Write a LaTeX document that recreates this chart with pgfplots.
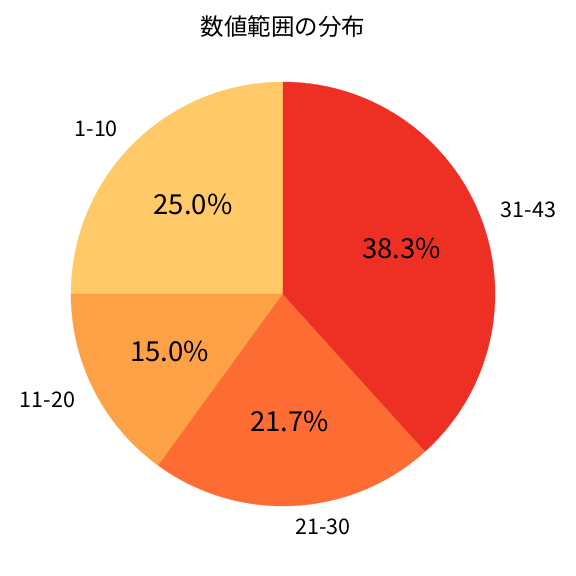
\documentclass[border=0pt]{standalone}
\usepackage{pgfplots}
\pgfplotsset{compat=1.18}
\usepackage{fontspec}
\setmainfont{Noto Sans CJK JP}

\definecolor{cA}{RGB}{254,201,102}
\definecolor{cB}{RGB}{253,161,71}
\definecolor{cC}{RGB}{252,108,51}
\definecolor{cD}{RGB}{238,48,36}

% shares (percent)
\def\pA{25.0}
\def\pB{15.0}
\def\pC{21.7}
\def\pD{38.3}

\begin{document}
\begin{tikzpicture}
\pgfmathsetmacro\aA{90}
\pgfmathsetmacro\aB{\aA+3.6*\pA}
\pgfmathsetmacro\aC{\aB+3.6*\pB}
\pgfmathsetmacro\aD{\aC+3.6*\pC}
\pgfmathsetmacro\aE{\aD+3.6*\pD}
\begin{axis}[
    scale only axis,
    width=576bp, height=576bp,
    xmin=-1.3349, xmax=1.3821,
    ymin=-1.3302, ymax=1.3868,
    hide axis,
    clip=false,
    samples=80,
    variable=\t,
]
\addplot[fill=cA, draw=cA, line width=0.3pt, domain=\aA:\aB] ({cos(t)},{sin(t)}) -- (0,0) -- cycle;
\addplot[fill=cB, draw=cB, line width=0.3pt, domain=\aB:\aC] ({cos(t)},{sin(t)}) -- (0,0) -- cycle;
\addplot[fill=cC, draw=cC, line width=0.3pt, domain=\aC:\aD] ({cos(t)},{sin(t)}) -- (0,0) -- cycle;
\addplot[fill=cD, draw=cD, line width=0.3pt, domain=\aD:\aE] ({cos(t)},{sin(t)}) -- (0,0) -- cycle;

\pgfmathsetmacro\mA{(\aA+\aB)/2}
\pgfmathsetmacro\mB{(\aB+\aC)/2}
\pgfmathsetmacro\mC{(\aC+\aD)/2}
\pgfmathsetmacro\mD{(\aD+\aE)/2}

\begin{scope}[every node/.style={inner sep=0pt, font=\fontsize{21.5bp}{24bp}\selectfont}]
\node[anchor=east] at (axis cs:{1.1*cos(\mA)},{1.1*sin(\mA)}) {1-10};
\node[anchor=east] at (axis cs:{1.1*cos(\mB)},{1.1*sin(\mB)}) {11-20};
\node[anchor=west] at (axis cs:{1.1*cos(\mC)},{1.1*sin(\mC)}) {21-30};
\node[anchor=west] at (axis cs:{1.1*cos(\mD)},{1.1*sin(\mD)}) {31-43};
\end{scope}
\begin{scope}[every node/.style={inner sep=0pt, font=\fontsize{27.5bp}{30bp}\selectfont}]
\node at (axis cs:{0.6*cos(\mA)},{0.6*sin(\mA)}) {25.0\%};
\node at (axis cs:{0.6*cos(\mB)},{0.6*sin(\mB)}) {15.0\%};
\node at (axis cs:{0.6*cos(\mC)},{0.6*sin(\mC)}) {21.7\%};
\node at (axis cs:{0.6*cos(\mD)},{0.6*sin(\mD)}) {38.3\%};
\end{scope}
\node[inner sep=0pt, font=\fontsize{23.5bp}{27bp}\selectfont] at (axis cs:0,{(294-27)/212}) {数値範囲の分布};
\end{axis}
\pgfresetboundingbox
\path (current axis.south west) rectangle (current axis.north east);
\end{tikzpicture}
\end{document}
